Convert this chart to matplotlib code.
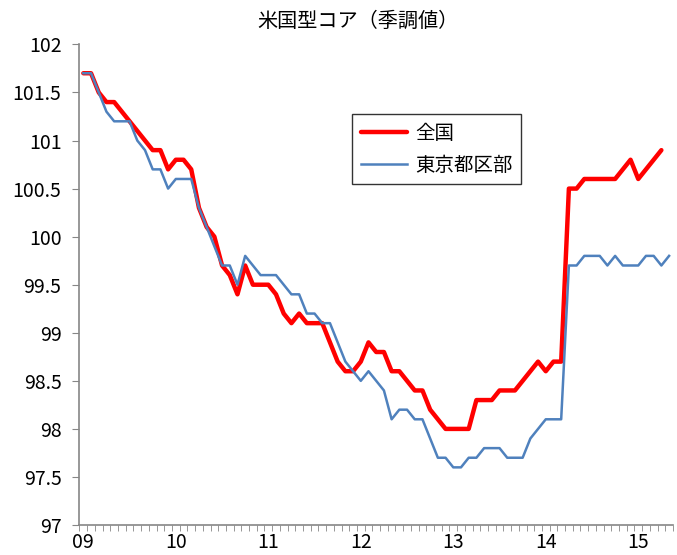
import matplotlib
matplotlib.use('Agg')
import matplotlib.pyplot as plt
import numpy as np

plt.rcParams['font.family'] = ['Noto Sans CJK JP', 'DejaVu Sans']

# 2009年1月からの月次データ
title = '米国型コア（季調値）'
series_names = ['全国', '東京都区部']

zenkoku = [
    101.7, 101.7, 101.5, 101.4, 101.4, 101.3, 101.2, 101.1, 101.0, 100.9, 100.9, 100.7,
    100.8, 100.8, 100.7, 100.3, 100.1, 100.0, 99.7, 99.6, 99.4, 99.7, 99.5, 99.5,
    99.5, 99.4, 99.2, 99.1, 99.2, 99.1, 99.1, 99.1, 98.9, 98.7, 98.6, 98.6,
    98.7, 98.9, 98.8, 98.8, 98.6, 98.6, 98.5, 98.4, 98.4, 98.2, 98.1, 98.0,
    98.0, 98.0, 98.0, 98.3, 98.3, 98.3, 98.4, 98.4, 98.4, 98.5, 98.6, 98.7,
    98.6, 98.7, 98.7, 100.5, 100.5, 100.6, 100.6, 100.6, 100.6, 100.6, 100.7, 100.8,
    100.6, 100.7, 100.8, 100.9,
]

tokyo = [
    101.7, 101.7, 101.5, 101.3, 101.2, 101.2, 101.2, 101.0, 100.9, 100.7, 100.7, 100.5,
    100.6, 100.6, 100.6, 100.3, 100.1, 99.9, 99.7, 99.7, 99.5, 99.8, 99.7, 99.6,
    99.6, 99.6, 99.5, 99.4, 99.4, 99.2, 99.2, 99.1, 99.1, 98.9, 98.7, 98.6,
    98.5, 98.6, 98.5, 98.4, 98.1, 98.2, 98.2, 98.1, 98.1, 97.9, 97.7, 97.7,
    97.6, 97.6, 97.7, 97.7, 97.8, 97.8, 97.8, 97.7, 97.7, 97.7, 97.9, 98.0,
    98.1, 98.1, 98.1, 99.7, 99.7, 99.8, 99.8, 99.8, 99.7, 99.8, 99.7, 99.7,
    99.7, 99.8, 99.8, 99.7, 99.8,
]

year_labels = ['09', '10', '11', '12', '13', '14', '15']
y_ticks = [97, 97.5, 98, 98.5, 99, 99.5, 100, 100.5, 101, 101.5, 102]
y_labels = ['97', '97.5', '98', '98.5', '99', '99.5', '100', '100.5', '101', '101.5', '102']

n_months = len(tokyo)

fig = plt.figure(figsize=(6.77, 5.55), dpi=100)
ax = fig.add_axes([0.1174, 0.054, 0.8766, 0.866])

ax.plot(np.arange(len(zenkoku)), zenkoku, color='#ff0000', lw=3.2,
        solid_joinstyle='round', solid_capstyle='round', label=series_names[0])
ax.plot(np.arange(len(tokyo)), tokyo, color='#4f81bd', lw=1.8,
        solid_joinstyle='round', label=series_names[1])

ax.set_xlim(-0.5, n_months - 0.5)
ax.set_ylim(97, 102)

ax.set_xticks(np.arange(0, n_months, 12))
ax.set_xticklabels(year_labels, fontsize=14)
ax.set_xticks(np.arange(-0.5, n_months, 1), minor=True)
ax.tick_params(axis='x', which='major', length=0, pad=5)
ax.tick_params(axis='x', which='minor', length=4, direction='out', color='#868686')

ax.set_yticks(y_ticks)
ax.set_yticklabels(y_labels, fontsize=14)
ax.tick_params(axis='y', length=5, direction='out', color='#868686', pad=8)

for s in ['top', 'right']:
    ax.spines[s].set_visible(False)
for s in ['left', 'bottom']:
    ax.spines[s].set_color('#868686')
    ax.spines[s].set_linewidth(1.2)

leg = ax.legend(loc='upper left', bbox_to_anchor=(0.459, 0.855), fontsize=14,
                frameon=True, fancybox=False, edgecolor='black', handlelength=2.4,
                handletextpad=0.4, borderpad=0.45, labelspacing=0.55, borderaxespad=0)
leg.get_frame().set_linewidth(1.0)

fig.text(0.529, 0.961, title, ha='center', va='center', fontsize=14.5)

fig.savefig('out.png', dpi=100)
